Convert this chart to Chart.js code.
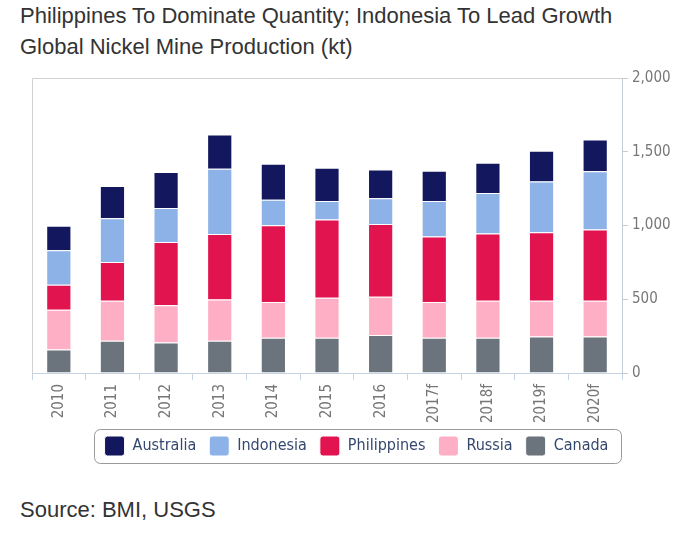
<!DOCTYPE html>
<html>
<head>
<meta charset="utf-8">
<script src="https://cdn.jsdelivr.net/npm/chart.js@4"></script>
<style>
  body { margin: 0; background: #fff; width: 681px; height: 536px; position: relative; overflow: hidden; }
  .title { position: absolute; left: 20px; top: 0px; font: 22px "Liberation Sans", Arial, sans-serif; color: #333; line-height: 31px; }
  .source { position: absolute; left: 20px; top: 497px; font: 22px "Liberation Sans", Arial, sans-serif; color: #333; }
  #wrap { position: absolute; left: 0; top: 0; width: 681px; height: 480px; }
</style>
</head>
<body>
<div class="title">Philippines To Dominate Quantity; Indonesia To Lead Growth<br>Global Nickel Mine Production (kt)</div>
<div id="wrap"><canvas id="nickelchart"></canvas></div>
<div class="source">Source: BMI, USGS</div>
<script>
var years = ['2010', '2011', '2012', '2013', '2014', '2015', '2016', '2017f', '2018f', '2019f', '2020f'];
// kt per country
var canada      = [160, 219, 207, 219, 239, 239, 257, 239, 239, 248, 248];
var russia      = [268, 271, 253, 280, 242, 271, 260, 242, 251, 242, 242];
var philippines = [171, 262, 428, 444, 521, 531, 494, 444, 455, 464, 483];
var indonesia   = [233, 298, 230, 442, 173, 125, 174, 241, 276, 344, 394];
var australia   = [166, 217, 244, 232, 244, 226, 195, 205, 205, 208, 216];
var yTicks = [0, 500, 1000, 1500, 2000];

var chartFont = '"DejaVu Sans Condensed", "DejaVu Sans", sans-serif';

// grey frame on top and left of the plot, rounded box round the legend
var framePlugin = {
    id: 'frame',
    beforeDraw: function (chart) {
        var c = chart.ctx, a = chart.chartArea;
        c.save();
        c.strokeStyle = '#d2d2d2';
        c.lineWidth = 1;
        c.beginPath();
        c.moveTo(a.left + 0.5, a.bottom);
        c.lineTo(a.left + 0.5, a.top + 0.5);
        c.lineTo(a.right, a.top + 0.5);
        c.stroke();
        c.restore();
    },
    afterDraw: function (chart) {
        var boxes = chart.legend.legendHitBoxes;
        if (!boxes || !boxes.length) return;
        var l = Infinity, r = -Infinity, t = Infinity, b = -Infinity;
        boxes.forEach(function (h) {
            l = Math.min(l, h.left); r = Math.max(r, h.left + h.width);
            t = Math.min(t, h.top); b = Math.max(b, h.top + h.height);
        });
        var c = chart.ctx;
        c.save();
        c.strokeStyle = '#999999';
        c.lineWidth = 1;
        c.beginPath();
        c.roundRect(Math.round(l - 11) + 0.5, Math.round(t - 7) + 0.5, Math.round(r - l + 23), Math.round(b - t + 14), 6);
        c.stroke();
        c.restore();
    }
};

var ctx = document.getElementById('nickelchart').getContext('2d');
var chart = new Chart(ctx, {
    type: 'bar',
    data: {
        labels: years,
        datasets: [
            { label: 'Canada', data: canada, backgroundColor: '#6b737c' },
            { label: 'Russia', data: russia, backgroundColor: '#ffafc5' },
            { label: 'Philippines', data: philippines, backgroundColor: '#e11450' },
            { label: 'Indonesia', data: indonesia, backgroundColor: '#8cb2e8' },
            { label: 'Australia', data: australia, backgroundColor: '#12175e' }
        ]
    },
    options: {
        responsive: true,
        maintainAspectRatio: false,
        animation: false,
        datasets: {
            bar: {
                borderColor: '#ffffff',
                borderWidth: 1,
                categoryPercentage: 1,
                barPercentage: 0.47
            }
        },
        layout: { padding: { top: 78, left: 32, right: 0, bottom: 14 } },
        plugins: {
            legend: {
                position: 'bottom',
                reverse: true,
                labels: {
                    boxWidth: 20,
                    boxHeight: 20,
                    padding: 13,
                    useBorderRadius: true,
                    borderRadius: 3,
                    color: '#34486e',
                    font: { family: chartFont, size: 16 }
                }
            },
            tooltip: { enabled: false }
        },
        scales: {
            x: {
                stacked: true,
                grid: { offset: true, drawOnChartArea: false, drawTicks: true, tickLength: 7, color: '#c5d3e3' },
                border: { color: '#c5d3e3' },
                ticks: {
                    minRotation: 90,
                    maxRotation: 90,
                    padding: 4,
                    color: '#777777',
                    font: { family: chartFont, size: 15 }
                },
                afterFit: function (s) { s.height = 50; }
            },
            y: {
                stacked: true,
                position: 'right',
                min: 0,
                max: 2000,
                afterBuildTicks: function (s) { s.ticks = yTicks.map(function (v) { return { value: v }; }); },
                grid: { drawOnChartArea: false, drawTicks: true, tickLength: 6, color: '#c5cbd8' },
                border: { color: '#c5cbd8' },
                ticks: {
                    padding: 4,
                    color: '#777777',
                    font: { family: chartFont, size: 15 }
                },
                afterFit: function (s) { s.width = 59; }
            }
        }
    },
    plugins: [framePlugin]
});
</script>
</body>
</html>
